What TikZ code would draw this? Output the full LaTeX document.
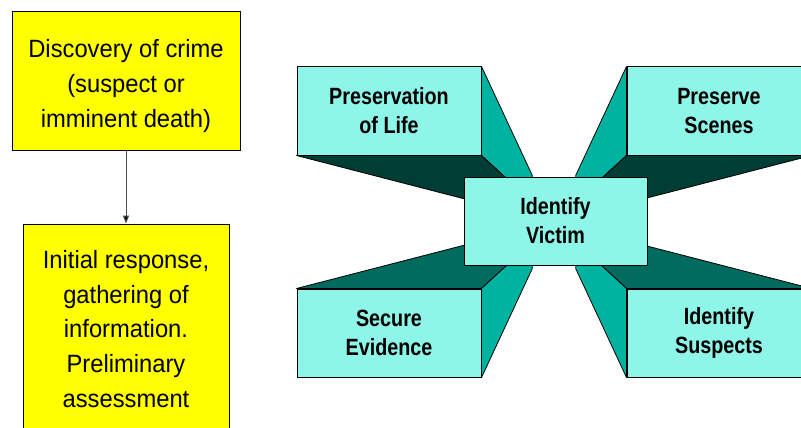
\documentclass[tikz,border=0pt]{standalone}
\usepackage{fontspec}
\setmainfont{Liberation Sans}[FakeStretch=0.95]
\newfontfamily\cyanfont{Liberation Sans Bold}[FakeStretch=0.84]
\usetikzlibrary{calc,arrows.meta,backgrounds}

\definecolor{boxyellow}{RGB}{255,255,0}
\definecolor{frontcyan}{RGB}{142,245,233}
\definecolor{sideteal}{RGB}{0,179,160}
\definecolor{shadedark}{RGB}{0,61,53}
\definecolor{topface}{RGB}{0,107,94}

\tikzset{
  ybox/.style={draw=black, line width=1pt, fill=boxyellow, inner sep=0pt},
  ytext/.style={align=center, inner sep=0pt, font=\fontsize{25}{34.8}\selectfont},
  front/.style={draw=black, line width=1pt, fill=frontcyan, inner sep=0pt,
    minimum width=184pt, minimum height=88pt, align=center,
    font=\cyanfont\fontsize{23.5}{29}\selectfont},
  side/.style={draw=black, line width=0.8pt, line join=round, fill=sideteal},
  under/.style={draw=black, line width=0.8pt, line join=round, fill=shadedark},
  over/.style={draw=black, line width=0.8pt, line join=round, fill=topface},
  flow/.style={draw=black!70, line width=1pt, -{Triangle[width=6pt,length=8pt,fill=black]}}
}

\begin{document}
\begin{tikzpicture}[x=1pt,y=-1pt]
\useasboundingbox (0,0) rectangle (801,428);

% Left column: the two yellow steps
\node[ybox, minimum width=228pt, minimum height=138pt] (disc) at (126,81) {};
\node[ytext] (disctext) at (126,86) {Discovery of crime\\(suspect or\\imminent death)};
\node[ybox, minimum width=206pt, minimum height=236pt] (resp) at (126,342) {};
\node[ytext] (resptext) at (126,329) {Initial response,\\gathering of\\information.\\Preliminary\\assessment};
\draw[flow] (disc.south) -- (resp.north);

% Vanishing point of the four extruded blocks
\coordinate (vp) at (554,222);

% Front faces of the four outer blocks
\node[front] (life) at (389,111) {Preservation\\of Life};
\node[front] (scene) at (719,111) {Preserve\\Scenes};
\node[front] (evid) at (389,333) {Secure\\Evidence};
\node[front] (susp) at (719,333) {Identify\\Suspects};

% Extruded sides, drawn behind the front faces
\begin{scope}[on background layer]
  % top left block
  \path[side] (life.north east) -- (life.south east) -- ($(vp)!0.3!(life.south east)$) -- ($(vp)!0.3!(life.north east)$) -- cycle;
  \path[under] (life.south west) -- (life.south east) -- ($(vp)!0.3!(life.south east)$) -- ($(vp)!0.3!(life.south west)$) -- cycle;
  % top right block
  \path[side] (scene.north west) -- (scene.south west) -- ($(vp)!0.3!(scene.south west)$) -- ($(vp)!0.3!(scene.north west)$) -- cycle;
  \path[under] (scene.south west) -- (scene.south east) -- ($(vp)!0.3!(scene.south east)$) -- ($(vp)!0.3!(scene.south west)$) -- cycle;
  % bottom left block
  \path[over] (evid.north west) -- (evid.north east) -- ($(vp)!0.3!(evid.north east)$) -- ($(vp)!0.3!(evid.north west)$) -- cycle;
  \path[side] (evid.north east) -- (evid.south east) -- ($(vp)!0.3!(evid.south east)$) -- ($(vp)!0.3!(evid.north east)$) -- cycle;
  % bottom right block
  \path[over] (susp.north west) -- (susp.north east) -- ($(vp)!0.3!(susp.north east)$) -- ($(vp)!0.3!(susp.north west)$) -- cycle;
  \path[side] (susp.north west) -- (susp.south west) -- ($(vp)!0.3!(susp.south west)$) -- ($(vp)!0.3!(susp.north west)$) -- cycle;
\end{scope}

% Central block on top of everything
\node[front, minimum width=183pt] (victim) at (555.5,221) {Identify\\Victim};
\end{tikzpicture}
\end{document}
